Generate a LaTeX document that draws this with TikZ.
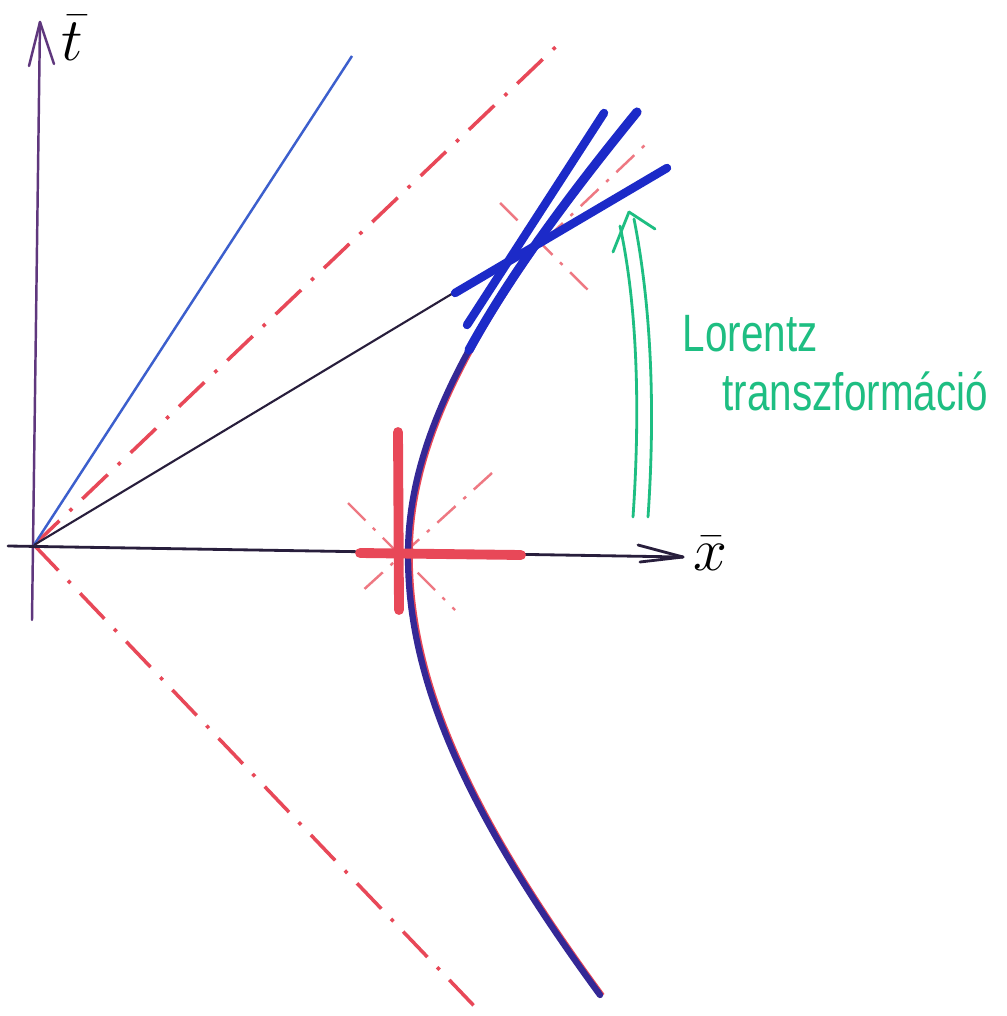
\documentclass[tikz,border=0pt]{standalone}
\usepackage{fontspec}
\newfontfamily\handfont{Liberation Sans}
\usetikzlibrary{arrows.meta}
\definecolor{penred}{RGB}{232,72,88}
\definecolor{penredlight}{RGB}{238,120,130}
\definecolor{penblue}{RGB}{28,42,200}
\definecolor{hypblue}{RGB}{52,40,150}
\definecolor{thinblue}{RGB}{60,95,205}
\definecolor{axpurple}{RGB}{95,55,125}
\definecolor{axdark}{RGB}{40,30,60}
\definecolor{pengreen}{RGB}{30,190,130}
\tikzset{
  axisline/.style={draw=axpurple, line width=0.7pt, line cap=round},
  xaxisline/.style={draw=axdark, line width=0.8pt, line cap=round},
  cone/.style={draw=penred, line width=1.0pt, dash pattern=on 10pt off 4pt on 1pt off 4pt},
  smallcone/.style={draw=penredlight, line width=0.7pt, dash pattern=on 7pt off 3pt on 1pt off 3pt},
  thickblue/.style={draw=penblue, line width=2.4pt, line cap=round},
  thinline/.style={draw=axdark, line width=0.6pt},
  redcross/.style={draw=penred, line width=2.8pt, line cap=round},
  greenpen/.style={draw=pengreen, line width=0.8pt, line cap=round},
  lbl/.style={text=pengreen, font=\handfont\fontsize{11.5}{11.5}\selectfont, inner sep=0pt, yscale=1.3}
}
\begin{document}
\begin{tikzpicture}[x=0.01cm,y=-0.01cm]
\useasboundingbox (0,0) rectangle (1006,1016);
\fill[white] (0,0) rectangle (1006,1016);

% key points
\coordinate (O) at (34,545);
\coordinate (tbot) at (32,620);
\coordinate (ttop) at (40,22);
\coordinate (tb1) at (29,66);
\coordinate (tb2) at (54,64);
\coordinate (xl) at (8,546);
\coordinate (xr) at (683,557);
\coordinate (xb1) at (638,545);
\coordinate (xb2) at (640,562);
\coordinate (cu) at (565,38);
\coordinate (cd) at (478,1010);
\coordinate (bl) at (352,56);
\coordinate (P1) at (455,292);
\coordinate (C1) at (455,293);
\coordinate (C2) at (667,168);
\coordinate (A1) at (467,325);
\coordinate (A2) at (604,113);
\coordinate (V1) at (398,432);
\coordinate (V2) at (399,610);
\coordinate (H1) at (360,553);
\coordinate (H2) at (521,555);
\coordinate (d1) at (348,503);
\coordinate (d2) at (455,610);
\coordinate (d3) at (492,473);
\coordinate (d4) at (360,593);
\coordinate (e1) at (500,203);
\coordinate (e2) at (588,290);
\coordinate (e3) at (545,240);
\coordinate (e4) at (645,145);
\coordinate (g1) at (633,517);
\coordinate (g2) at (620,226);
\coordinate (g3) at (648,517);
\coordinate (g4) at (634,219);
\coordinate (gt) at (629,212);
\coordinate (gb1) at (613,252);
\coordinate (gb2) at (655,229);

% light cone
\draw[cone] (O) -- (cu);
\draw[cone] (O) -- (cd);

% axes
\draw[axisline] (tbot) -- (ttop);
\draw[axisline] (ttop) -- (tb1);
\draw[axisline] (ttop) -- (tb2);
\draw[xaxisline] (xl) -- (xr);
\draw[xaxisline] (xr) -- (xb1);
\draw[xaxisline] (xr) -- (xb2);
\node[font=\fontsize{19}{19}\selectfont, inner sep=1pt] (tlab) at (72,38) {$\bar t$};
\node[font=\fontsize{17}{17}\selectfont, inner sep=1pt] (xlab) at (710,553) {$\bar x$};

% thin blue world line
\draw[thinblue, line width=0.7pt] (O) -- (bl);
% line from origin to the event
\draw[thinline] (O) -- (P1);

% small light cones
\draw[smallcone] (d1) -- (d2);
\draw[smallcone] (d3) -- (d4);
\draw[smallcone] (e1) -- (e2);
\draw[smallcone] (e3) -- (e4);

% hyperbola (red underneath, blue on top)
\draw[penred, line width=1.0pt]
  plot[domain=0:443, samples=60, variable=\t] ({97+100*sqrt(9.8596+(\t/100)^2)},{555-\t});
\draw[penred, line width=1.0pt]
  plot[domain=0:440, samples=60, variable=\t] ({3+100*sqrt(16.6464+(\t/100)^2)},{555+\t});
\draw[hypblue, line width=1.8pt, line cap=round]
  plot[domain=0:443, samples=60, variable=\t] ({94+100*sqrt(9.8596+(\t/100)^2)},{555-\t});
\draw[hypblue, line width=1.8pt, line cap=round]
  plot[domain=0:440, samples=60, variable=\t] ({100*sqrt(16.6464+(\t/100)^2)},{555+\t});
\draw[penblue, line width=2.6pt, line cap=round]
  plot[domain=205:443, samples=30, variable=\t] ({94+100*sqrt(9.8596+(\t/100)^2)},{555-\t});

% boosted axes at the event
\draw[thickblue] (A1) -- (A2);
\draw[thickblue] (C1) -- (C2);

% red cross at the vertex
\draw[redcross] (V1) -- (V2);
\draw[redcross] (H1) -- (H2);

% green double arrow
\draw[greenpen] (g1) .. controls (641,400) and (636,300) .. (g2);
\draw[greenpen] (g3) .. controls (656,400) and (650,300) .. (g4);
\draw[greenpen] (gt) -- (gb1);
\draw[greenpen] (gt) -- (gb2);

% label
\node[lbl, anchor=base west] (lor) at (682,352) {Lorentz};
\node[lbl, anchor=base west] (trf) at (722,410) {transzformáció};
\end{tikzpicture}
\end{document}
